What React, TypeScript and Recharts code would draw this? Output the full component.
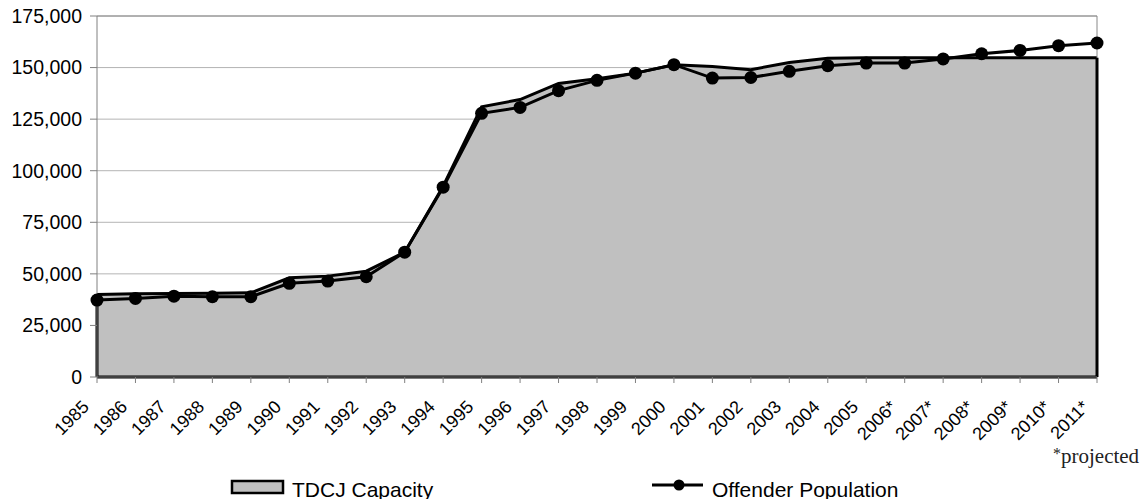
import React from "react";
import {
	AreaChart,
	Area,
	Line,
	XAxis,
	YAxis,
	CartesianGrid,
	ReferenceLine,
	Legend,
} from "recharts";

const years = [
	"1985", "1986", "1987", "1988", "1989", "1990", "1991", "1992", "1993",
	"1994", "1995", "1996", "1997", "1998", "1999", "2000", "2001", "2002",
	"2003", "2004", "2005", "2006*", "2007*", "2008*", "2009*", "2010*", "2011*",
];

const capacity = [
	40000, 40300, 40500, 40600, 40800, 48100, 48900, 51300, 60500,
	92500, 131000, 134500, 142300, 144600, 147300, 151400, 150500, 149000,
	152500, 154500, 154800, 154800, 154800, 154800, 154800, 154800, 154800,
];

const population = [
	37300, 38100, 39200, 38900, 38900, 45400, 46500, 48600, 60500,
	92000, 127800, 130700, 138800, 143800, 147300, 151400, 144900, 145200,
	148200, 150900, 152200, 152200, 154200, 156700, 158300, 160600, 161900,
];

const yTicks = [0, 25000, 50000, 75000, 100000, 125000, 150000, 175000];

const data = years.map((year, i) => ({
	year,
	capacity: capacity[i],
	population: population[i],
}));

const FONT = "Arial, 'Liberation Sans', sans-serif";

const YearTick = ({ x, y, payload }: any) => {
	const ax = x - 7;
	const ay = y + 23;
	return (
		<text
			x={ax}
			y={ay}
			transform={`rotate(-45, ${ax}, ${ay})`}
			textAnchor="end"
			fontSize={18}
			fontFamily={FONT}
			fill="#000"
		>
			{payload.value}
		</text>
	);
};

const LegendBox = () => (
	<svg width={1143} height={26} style={{ display: "block" }}>
		<rect x={232} y={7} width={51} height={12} fill="#c0c0c0" stroke="#000" strokeWidth={2.5} />
		<text x={292} y={23} fontSize={21} fontFamily={FONT} fill="#000">
			TDCJ Capacity
		</text>
		<line x1={652} y1={11} x2={703} y2={11} stroke="#000" strokeWidth={3} />
		<circle cx={679} cy={11} r={5.5} fill="#000" />
		<text x={712} y={23} fontSize={21} fontFamily={FONT} fill="#000">
			Offender Population
		</text>
	</svg>
);

const last = years.length - 1;

export default function App() {
	return (
		<div style={{ position: "absolute", left: 0, top: 0, width: 1143, height: 499, background: "#fff" }}>
			<AreaChart
				width={1143}
				height={499}
				data={data}
				margin={{ top: 16, right: 46, left: 0, bottom: 0 }}
			>
				<CartesianGrid vertical={false} stroke="#b4b4b4" />
				<XAxis
					dataKey="year"
					interval={0}
					tick={<YearTick />}
					tickSize={6}
					tickMargin={2}
					height={122}
					axisLine={{ stroke: "#808080" }}
					tickLine={{ stroke: "#808080" }}
				/>
				<YAxis
					width={97}
					domain={[0, 175000]}
					ticks={yTicks}
					interval={0}
					tickSize={7}
					tickMargin={8}
					tickFormatter={(v: number) => v.toLocaleString("en-US")}
					tick={{ fontSize: 19.5, fill: "#000", fontFamily: FONT }}
					axisLine={{ stroke: "#808080" }}
					tickLine={{ stroke: "#808080" }}
				/>
				<ReferenceLine y={175000} stroke="#888" />
				<ReferenceLine x={years[last]} stroke="#888" />
				<Area
					type="linear"
					dataKey="capacity"
					fill="#c0c0c0"
					fillOpacity={1}
					stroke="#000"
					strokeWidth={3}
					isAnimationActive={false}
				/>
				<ReferenceLine
					segment={[{ x: years[0], y: 0 }, { x: years[0], y: capacity[0] }]}
					stroke="#000"
					strokeWidth={3}
				/>
				<ReferenceLine
					segment={[{ x: years[last], y: 0 }, { x: years[last], y: capacity[last] }]}
					stroke="#000"
					strokeWidth={3}
				/>
				<ReferenceLine y={0} stroke="#000" strokeWidth={3} />
				<Line
					type="linear"
					dataKey="population"
					stroke="#000"
					strokeWidth={3}
					dot={{ r: 6.5, fill: "#000", stroke: "#000", strokeWidth: 0 }}
					activeDot={false}
					isAnimationActive={false}
				/>
				<Legend
					layout="horizontal"
					verticalAlign="middle"
					align="center"
					content={<LegendBox />}
					wrapperStyle={{ position: "absolute", left: 0, top: 474, width: 1143, height: 26 }}
				/>
			</AreaChart>
			<div
				style={{
					position: "absolute",
					left: 1053,
					top: 441,
					fontFamily: "'Liberation Serif', serif",
					fontSize: 21,
					color: "#222",
					whiteSpace: "nowrap",
					lineHeight: "26px",
				}}
			>
				<span style={{ fontSize: 16, verticalAlign: "4px" }}>*</span>projected
			</div>
		</div>
	);
}
